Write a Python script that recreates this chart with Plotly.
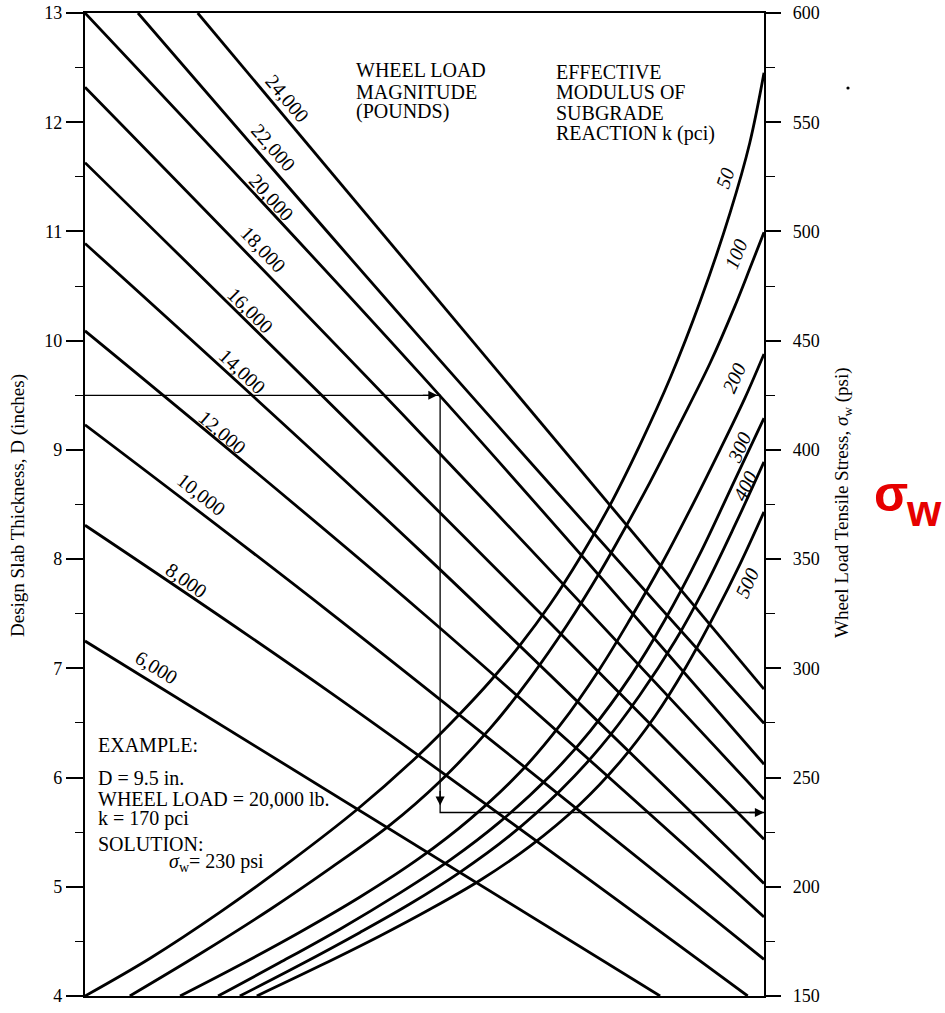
import math
import plotly.graph_objects as go

# Wheel-load lines: start on the left axis (D, inches) or top edge, end on the right axis (psi) or bottom edge
load_labels = ["6,000", "8,000", "10,000", "12,000", "14,000", "16,000", "18,000", "20,000", "22,000", "24,000"]
load_start_u = [0, 0, 0, 0, 0, 0, 0, 0, 0.078, 0.166]
load_start_D = [7.25, 8.31, 9.23, 10.09, 10.89, 11.63, 12.32, 13.0, 13.0, 13.0]
load_mid_u = [None, 0.361, 0.361, 0.493, 0.493, 0.493, 0.493, 0.493, 0.493, None]
load_mid_D = [None, 6.78, 7.51, 7.53, 8.08, 8.61, 9.16, 9.70, 10.03, None]
load_end_u = [0.847, 0.976, 1, 1, 1, 1, 1, 1, 1, 1]
load_end_psi = [150, 150, 166.8, 186.2, 201.5, 221.8, 240.1, 256.1, 274.8, 290.5]

# Effective modulus of subgrade reaction curves (u = horizontal position 0..1, stress in psi)
k_labels = ["50", "100", "200", "300", "400", "500"]
k50_u = [0, 0.096, 0.199, 0.302, 0.402, 0.490, 0.552, 0.597, 0.641, 0.685, 0.729, 0.773, 0.817, 0.862, 0.906, 0.950, 0.979, 1.0]
k50_psi = [150, 167.3, 188.4, 211.5, 235.7, 259.9, 279.1, 294.2, 310.7, 329.3, 350.6, 374.6, 402.1, 433.0, 468.0, 508.5, 540.5, 572.6]
k100_u = [0.066, 0.169, 0.273, 0.361, 0.449, 0.523, 0.597, 0.655, 0.710, 0.759, 0.788, 0.832, 0.876, 0.921, 0.957, 0.979, 1.0]
k100_psi = [150, 169.2, 189.7, 208.4, 228.2, 248.3, 272.6, 295.3, 319.8, 344.3, 360.1, 385.1, 411.9, 440.0, 465.7, 482.9, 499.6]
k200_u = [0.140, 0.228, 0.317, 0.405, 0.493, 0.567, 0.641, 0.700, 0.759, 0.803, 0.850, 0.891, 0.935, 0.972, 1.0]
k200_psi = [150, 164.2, 179.3, 195.3, 213.2, 231.0, 252.5, 274.1, 300.2, 322.6, 348.2, 372.5, 399.9, 423.8, 443.9]
k300_u = [0.196, 0.287, 0.376, 0.464, 0.538, 0.611, 0.685, 0.744, 0.803, 0.854, 0.906, 0.957, 1.0]
k300_psi = [150, 165.3, 180.7, 197.2, 212.3, 229.7, 250.8, 271.3, 296.2, 322.1, 352.6, 386.2, 414.5]
k400_u = [0.228, 0.317, 0.405, 0.479, 0.552, 0.626, 0.700, 0.759, 0.817, 0.869, 0.913, 0.957, 1.0]
k400_psi = [150, 164.3, 179.1, 192.2, 206.6, 223.5, 244.1, 263.9, 287.7, 312.5, 337.2, 365.4, 394.5]
k500_u = [0.253, 0.346, 0.435, 0.508, 0.582, 0.655, 0.729, 0.788, 0.840, 0.884, 0.928, 0.965, 1.0]
k500_psi = [150, 163.8, 177.6, 189.7, 203.0, 218.5, 237.8, 257.2, 278.3, 300.0, 325.0, 347.9, 371.6]
k_u = [k50_u, k100_u, k200_u, k300_u, k400_u, k500_u]
k_psi = [k50_psi, k100_psi, k200_psi, k300_psi, k400_psi, k500_psi]

# Axis ticks
D_ticks = [4, 5, 6, 7, 8, 9, 10, 11, 12, 13]
D_minor = [4.5, 5.5, 6.5, 7.5, 8.5, 9.5, 10.5, 11.5, 12.5]
psi_ticks = [150, 200, 250, 300, 350, 400, 450, 500, 550, 600]
psi_minor = [175, 225, 275, 325, 375, 425, 475, 525, 575]

# Worked example
example_D = 9.5
example_turn_u = 0.523
example_psi = 234

# ---------------- layout geometry ----------------
W, H = 945, 1013
L, R, T, B = 85, 764, 13, 996
PW, PH = R - L, B - T
D_MIN, D_MAX = 4, 13
P_MIN, P_MAX = 150, 600


def psi_to_D(p):
    return D_MIN + (p - P_MIN) * (D_MAX - D_MIN) / (P_MAX - P_MIN)


def paper(px, py):
    return (px - L) / PW, 1 - (py - T) / PH


SERIF = "Liberation Serif, Times New Roman, serif"
SANS = "Liberation Sans, Arial, sans-serif"

fig = go.Figure()

# wheel load lines
for i in range(len(load_labels)):
    xs = [load_start_u[i]]
    ys = [load_start_D[i]]
    if load_mid_u[i] is not None:
        xs.append(load_mid_u[i])
        ys.append(load_mid_D[i])
    xs.append(load_end_u[i])
    ys.append(psi_to_D(load_end_psi[i]))
    fig.add_trace(go.Scatter(x=xs, y=ys, mode="lines",
                             line=dict(color="black", width=2.8, shape="spline", smoothing=1),
                             hoverinfo="skip", showlegend=False))

# k curves
for u, p in zip(k_u, k_psi):
    fig.add_trace(go.Scatter(x=u, y=p, yaxis="y2", mode="lines",
                             line=dict(color="black", width=2.8, shape="spline", smoothing=1),
                             hoverinfo="skip", showlegend=False))

# example path
yD = psi_to_D(example_psi)
fig.add_trace(go.Scatter(x=[0, example_turn_u, example_turn_u, 1],
                         y=[example_D, example_D, yD, yD], mode="lines",
                         line=dict(color="black", width=1.3),
                         hoverinfo="skip", showlegend=False))

ann = []
arrow_common = dict(showarrow=True, arrowhead=2, arrowsize=1.4, arrowwidth=1.3,
                    arrowcolor="black", text="", xref="x", yref="y")
ann.append(dict(x=example_turn_u - 0.004, y=example_D, ax=-16, ay=0, **arrow_common))
ann.append(dict(x=example_turn_u, y=yD + 7 / (PH / 9), ax=0, ay=-16, **arrow_common))
ann.append(dict(x=1, y=yD, ax=-16, ay=0, **arrow_common))

# wheel load labels
load_label_px = [(156, 667), (186, 580), (201, 494), (222, 432), (242, 371),
                 (250, 310), (263, 249), (271, 197), (273, 147), (287, 98)]
for i, (px, py) in enumerate(load_label_px):
    dx = (load_end_u[i] - load_start_u[i]) * PW
    dy = (load_start_D[i] - psi_to_D(load_end_psi[i])) * PH / (D_MAX - D_MIN)
    ang = math.degrees(math.atan2(dy, dx))
    x, y = paper(px, py)
    ann.append(dict(x=x, y=y, xref="paper", yref="paper", text=load_labels[i],
                    showarrow=False, textangle=ang, xanchor="center", yanchor="middle",
                    font=dict(family=SERIF, size=20, color="black")))

# k labels
k_label_px = [(725, 178), (736, 254), (734, 378), (739, 448), (745, 486), (747, 583)]
k_label_ang = [-72, -68, -66, -66, -64, -66]
for lab, (px, py), a in zip(k_labels, k_label_px, k_label_ang):
    x, y = paper(px, py)
    ann.append(dict(x=x, y=y, xref="paper", yref="paper", text="<i>" + lab + "</i>",
                    showarrow=False, textangle=a, xanchor="center", yanchor="middle",
                    font=dict(family=SERIF, size=20, color="black")))


def text_line(txt, px, py, size=20):
    x, y = paper(px, py)
    ann.append(dict(x=x, y=y, xref="paper", yref="paper", text=txt, showarrow=False,
                    xanchor="left", yanchor="middle", borderpad=0,
                    font=dict(family=SERIF, size=size, color="black")))


for txt, py in zip(["WHEEL LOAD", "MAGNITUDE", "(POUNDS)"], [70, 91.5, 111.5]):
    text_line(txt, 355, py)
for txt, py in zip(["EFFECTIVE", "MODULUS OF", "SUBGRADE", "REACTION k (pci)"], [71.5, 92, 112.5, 133]):
    text_line(txt, 555, py)
for txt, px, py in [("EXAMPLE:", 97, 744.5), ("D = 9.5 in.", 97, 777.5),
                    ("WHEEL LOAD = 20,000 lb.", 97, 798.5), ("k = 170 pci", 97, 818),
                    ("SOLUTION:", 97, 844), ("<i>σ</i><sub>w</sub>= 230 psi", 168, 862)]:
    text_line(txt, px, py)

# axis titles
x, y = paper(18, 506)
ann.append(dict(x=x, y=y, xref="paper", yref="paper", text="Design Slab Thickness, D (inches)",
                showarrow=False, textangle=-90, xanchor="center", yanchor="middle",
                font=dict(family=SERIF, size=19, color="black")))
x, y = paper(843, 503)
ann.append(dict(x=x, y=y, xref="paper", yref="paper",
                text="Wheel Load Tensile Stress, <i>σ</i><sub>w</sub> (psi)",
                showarrow=False, textangle=-90, xanchor="center", yanchor="middle",
                font=dict(family=SERIF, size=19, color="black")))

# red sigma_w
x, y = paper(891, 494)
ann.append(dict(x=x, y=y, xref="paper", yref="paper", text="<b>σ</b>", showarrow=False,
                xanchor="center", yanchor="middle", font=dict(family=SANS, size=50, color="#e60000")))
x, y = paper(924, 510)
ann.append(dict(x=x, y=y, xref="paper", yref="paper", text="<b>w</b>", showarrow=False,
                xanchor="center", yanchor="middle", font=dict(family=SANS, size=44, color="#e60000")))

dx0, dy0 = paper(848, 88)
fig.add_shape(type="circle", xref="paper", yref="paper",
              x0=dx0 - 1.6 / PW, x1=dx0 + 1.6 / PW, y0=dy0 - 1.6 / PH, y1=dy0 + 1.6 / PH,
              fillcolor="black", line=dict(width=0))

fig.update_layout(
    width=W, height=H,
    margin=dict(l=L, r=W - R, t=T, b=H - B, pad=0, autoexpand=False),
    paper_bgcolor="white", plot_bgcolor="white",
    showlegend=False, hovermode=False,
    annotations=ann,
    xaxis=dict(range=[0, 1], showgrid=False, zeroline=False, showticklabels=False, ticks="",
               showline=True, linecolor="black", linewidth=2, mirror=True, automargin=False),
    yaxis=dict(range=[D_MIN, D_MAX], tickmode="array", tickvals=D_ticks,
               ticks="outside", ticklen=17, tickwidth=1.5, tickcolor="black",
               showline=True, linecolor="black", linewidth=2.2,
               showgrid=False, zeroline=False, automargin=False,
               tickfont=dict(family=SERIF, size=18, color="black"),
               minor=dict(tickmode="array", tickvals=D_minor, ticks="outside",
                          ticklen=8, tickwidth=1.3, tickcolor="black", showgrid=False)),
    yaxis2=dict(range=[P_MIN, P_MAX], overlaying="y", side="right", anchor="x",
                tickmode="array", tickvals=psi_ticks,
                ticks="outside", ticklen=15, tickwidth=1.5, tickcolor="black",
                showline=True, linecolor="black", linewidth=2.2,
                showgrid=False, zeroline=False, ticklabelstandoff=8, automargin=False,
                tickfont=dict(family=SERIF, size=18, color="black"),
                minor=dict(tickmode="array", tickvals=psi_minor, ticks="outside",
                           ticklen=9, tickwidth=1.3, tickcolor="black", showgrid=False)),
)

fig.write_html("out.html")
